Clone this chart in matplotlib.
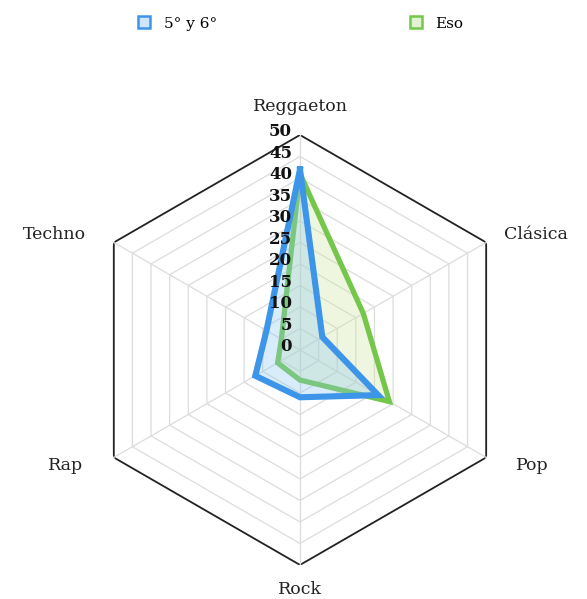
import numpy as np
import matplotlib
matplotlib.use('Agg')
import matplotlib.pyplot as plt
from matplotlib.lines import Line2D
from matplotlib.transforms import offset_copy

# data
labels = ['Reggaeton', 'Clásica', 'Pop', 'Rock', 'Rap', 'Techno']
grupo_primaria = [42, 6, 21, 11, 12, 9]   # 5° y 6°
grupo_eso = [41, 17, 24, 7, 6, 5]         # Eso
series_names = ['5° y 6°', 'Eso']
ticks = [0, 5, 10, 15, 20, 25, 30, 35, 40, 45, 50]

blue = '#3d95ea'
green = '#74c74a'

plt.rcParams['font.family'] = ['DejaVu Serif']

fig = plt.figure(figsize=(5.87, 5.99), dpi=100)
ax = fig.add_axes([0.1448, 0.0568, 0.7325, 0.7179], projection='polar')
ax.set_theta_offset(np.pi / 2)
ax.set_theta_direction(-1)
ax.set_ylim(0, 50)
ax.grid(False)
ax.set_xticks([])
ax.set_yticks([])
ax.spines['polar'].set_visible(False)
ax.patch.set_alpha(0)

angles = np.linspace(0, 2 * np.pi, len(labels), endpoint=False)
closed = np.append(angles, angles[0])

# hexagon grid
for t in ticks[1:]:
    ring = [t] * (len(labels) + 1)
    if t == ticks[-1]:
        ax.plot(closed, ring, color='#222222', lw=1.3, zorder=1)
    else:
        ax.plot(closed, ring, color='#dcdcdc', lw=0.9, zorder=1)
for a in angles:
    ax.plot([a, a], [0, ticks[-1]], color='#dcdcdc', lw=0.9, zorder=1)

# series
def draw(vals, col, fillcol, lw, z):
    v = vals + vals[:1]
    ax.fill(closed, v, color=fillcol, alpha=0.33, zorder=z, lw=0)
    ax.plot(closed, v, color=col, lw=lw, solid_joinstyle='miter', zorder=z + 1)

draw(grupo_eso, green, '#cfe6a0', 3.8, 3)
draw(grupo_primaria, blue, '#8cc6f0', 4.4, 5)

# radial tick labels
tick_tr = offset_copy(ax.transData, fig=fig, x=-8, y=3, units='dots')
for t in ticks:
    ax.text(0, t, str(t), ha='right', va='center', fontsize=12,
            fontweight='bold', color='#111111', zorder=8, transform=tick_tr)

# category labels, placed next to the outer vertices
label_off = [(0, 28, 'center'), (18, 8, 'left'), (30, -8, 'left'),
             (0, -25, 'center'), (-31, -8, 'right'), (-28, 8, 'right')]
for a, lab, (dx, dy, ha) in zip(angles, labels, label_off):
    tr = offset_copy(ax.transData, fig=fig, x=dx, y=dy, units='dots')
    ax.text(a, ticks[-1], lab, ha=ha, va='center', fontsize=12.5,
            color='#222222', transform=tr)

# legend
handles = [Line2D([], [], marker='s', ls='', markersize=8, markeredgewidth=1.8,
                  markeredgecolor=blue, markerfacecolor='#cfe6fa'),
           Line2D([], [], marker='s', ls='', markersize=8, markeredgewidth=1.8,
                  markeredgecolor=green, markerfacecolor='#e3f2d4')]
fig.legend(handles, series_names, loc='upper center', bbox_to_anchor=(0.511, 0.995),
           ncol=2, frameon=False, fontsize=11, handlelength=1, handletextpad=0.8,
           columnspacing=12.5)

fig.savefig('out.png', dpi=100)
